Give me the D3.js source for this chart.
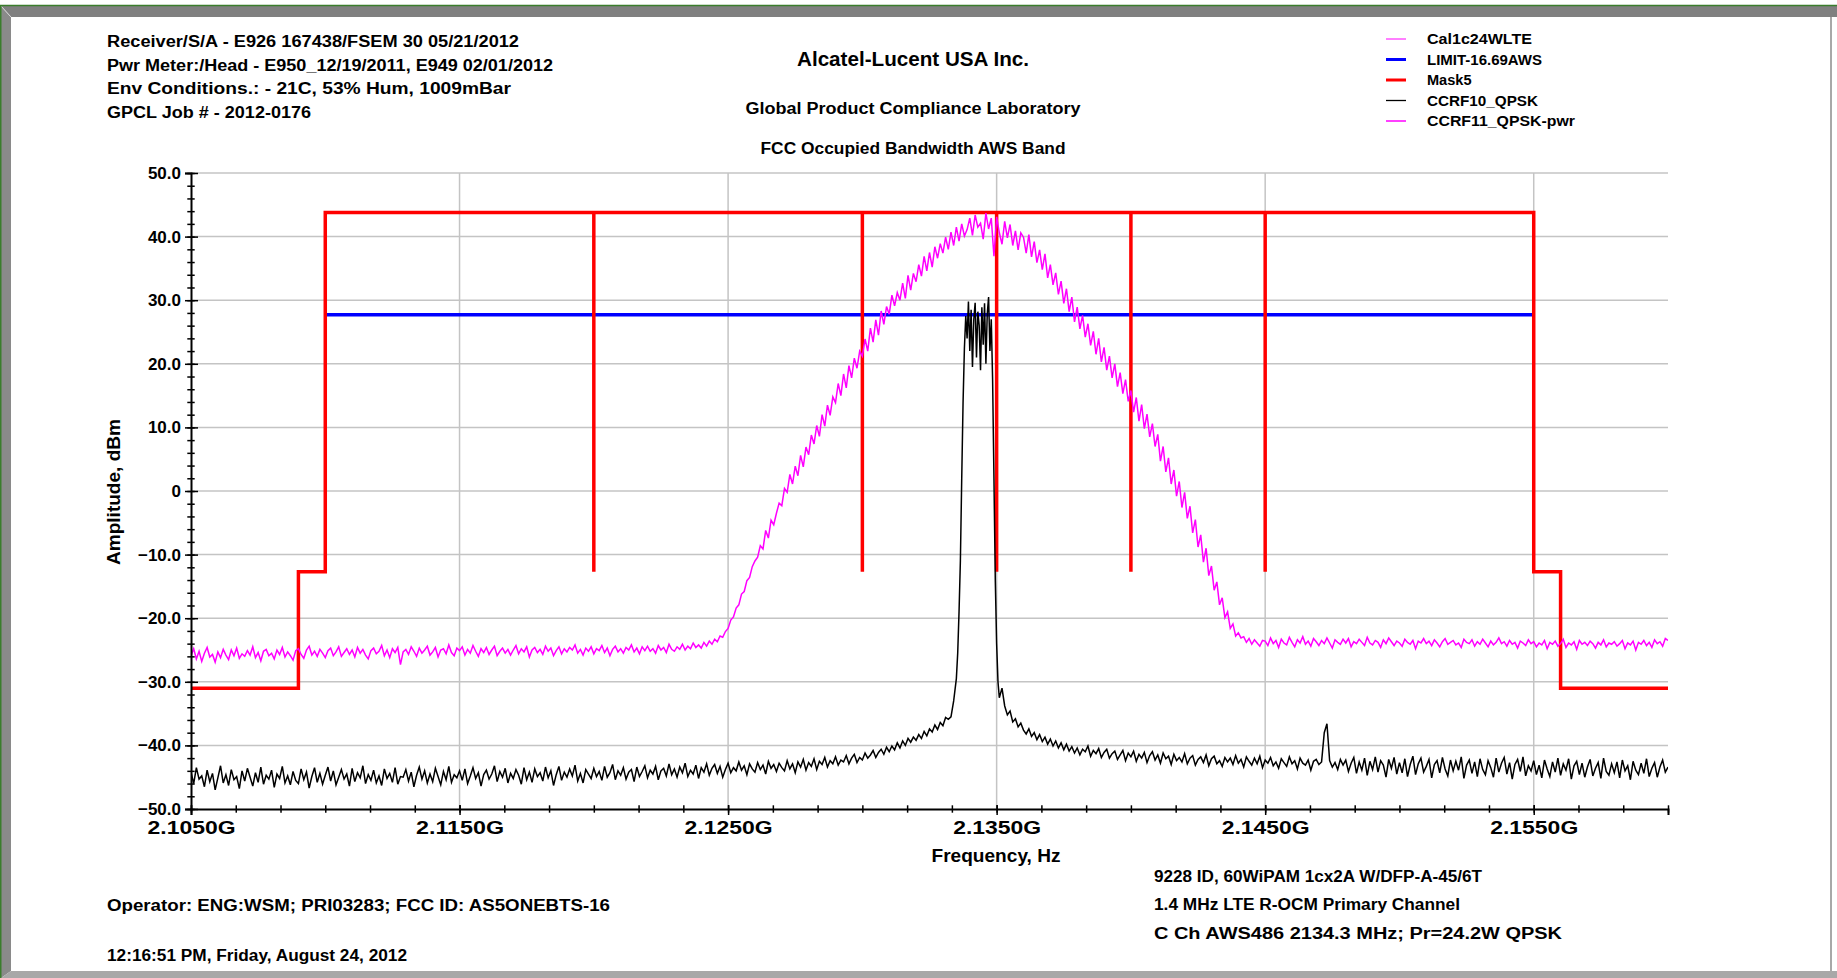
<!DOCTYPE html>
<html>
<head>
<meta charset="utf-8">
<script src="https://cdn.jsdelivr.net/npm/d3@7"></script>
<style>
  body { margin: 0; background: #fff; }
  svg text { font-family: "Liberation Sans", Arial, sans-serif; font-weight: bold; fill: #000; }
</style>
</head>
<body>
<div id="wrapper"></div>
<script>
// sweep grid of the analyser, MHz
const sweepStartMHz = 2105
const sweepStepMHz = 0.1

// CCRF11_QPSK-pwr (magenta), one value per sweep point (2105.0 .. 2160.0), dBm
const ccrf11Pwr = [
  -25.9,-24.8,-26.4,-25.2,-26.8,-25.5,-24.6,-26.1,-25.7,-26.9,
  -25.3,-26.2,-24.9,-25.8,-26.5,-25.0,-25.9,-24.7,-26.3,-25.6,
  -26.0,-25.1,-25.8,-24.5,-26.2,-25.4,-26.7,-25.2,-24.9,-25.9,
  -25.5,-26.4,-25.0,-25.7,-24.6,-26.1,-25.3,-25.9,-26.6,-25.1,
  -24.8,-25.7,-26.3,-25.0,-24.4,-25.8,-25.2,-26.0,-24.9,-25.5,
  -26.2,-25.1,-24.7,-25.9,-25.3,-24.5,-26.0,-25.4,-24.8,-25.7,
  -25.0,-26.1,-24.6,-25.5,-24.9,-25.8,-26.4,-25.1,-24.7,-25.6,
  -25.2,-24.3,-25.9,-25.0,-26.2,-24.8,-25.4,-24.6,-27.3,-25.3,
  -24.9,-25.7,-24.5,-25.2,-26.0,-24.7,-25.5,-25.0,-24.4,-25.8,
  -25.3,-24.6,-26.1,-25.0,-24.8,-25.6,-24.2,-25.4,-25.9,-24.7,
  -25.1,-24.5,-25.8,-24.9,-25.5,-24.3,-25.2,-26.0,-24.8,-25.4,
  -24.6,-25.7,-25.0,-24.4,-25.9,-25.2,-24.7,-25.5,-24.9,-25.8,
  -25.0,-24.3,-25.6,-24.8,-25.3,-24.5,-26.1,-25.0,-24.6,-25.4,
  -24.9,-25.7,-24.4,-25.2,-24.7,-25.9,-25.1,-24.5,-25.6,-24.8,
  -25.3,-24.6,-25.0,-24.2,-25.5,-24.9,-25.8,-24.7,-25.2,-24.5,
  -25.6,-24.8,-25.1,-24.3,-25.4,-24.7,-25.9,-24.9,-24.4,-25.3,
  -24.8,-25.5,-24.6,-25.0,-24.2,-25.3,-24.7,-25.6,-24.5,-25.1,
  -24.4,-25.2,-24.8,-25.5,-24.3,-25.0,-24.6,-25.4,-24.1,-24.9,
  -25.2,-24.5,-24.9,-24.1,-25.0,-24.4,-24.8,-23.9,-24.6,-24.2,
  -24.7,-23.8,-24.4,-23.6,-24.1,-23.3,-23.7,-22.8,-23.0,-22.1,
  -21.6,-20.3,-19.8,-18.4,-17.9,-16.2,-15.8,-14.1,-13.6,-11.9,
  -11.0,-10.4,-8.6,-9.1,-6.2,-7.4,-4.6,-5.3,-3.5,-1.9,
  -2.3,0.4,-0.2,2.6,1.1,3.9,2.4,5.6,3.8,6.9,
  5.7,8.8,7.4,10.3,8.6,12.0,10.2,13.5,11.9,14.8,
  13.9,16.9,15.0,18.4,16.2,19.7,17.8,20.9,19.3,22.0,
  21.2,23.9,22.0,25.6,23.4,26.9,24.5,28.3,26.2,29.0,
  27.8,30.8,29.1,31.2,30.0,32.7,30.3,33.9,31.6,34.2,
  32.9,35.6,33.8,36.9,34.6,37.5,35.2,38.4,36.6,38.9,
  37.4,39.9,38.0,40.7,38.6,41.5,39.3,42.0,40.1,41.1,
  42.9,40.2,43.4,41.5,42.1,39.6,43.7,41.2,42.9,36.9,
  43.1,40.6,38.8,42.4,39.8,41.9,38.6,40.9,37.9,40.6,
  39.9,37.4,40.3,36.8,39.2,35.9,37.9,34.8,37.3,33.5,
  35.6,32.4,34.3,30.9,33.0,29.5,31.8,28.2,30.5,26.6,
  28.9,25.5,27.6,24.2,26.3,22.9,25.1,21.5,24.0,20.3,
  22.6,19.0,21.2,17.8,20.0,16.4,18.6,15.3,17.5,14.1,
  15.8,12.4,14.7,11.0,13.6,9.8,12.1,8.5,10.6,7.0,
  8.9,4.7,7.0,3.0,5.2,1.1,3.3,-0.8,1.5,-2.6,
  -0.2,-4.3,-2.4,-6.6,-4.5,-8.8,-6.9,-11.2,-9.0,-13.3,
  -11.8,-15.6,-14.3,-17.9,-16.8,-19.9,-19.0,-21.6,-20.9,-22.8,
  -22.3,-23.1,-22.9,-23.8,-23.2,-24.1,-23.4,-23.9,-24.4,-23.5,
  -23.6,-24.3,-23.1,-24.0,-23.5,-24.6,-23.3,-23.9,-24.2,-23.0,
  -23.8,-24.5,-23.4,-23.9,-22.9,-24.1,-23.6,-24.4,-23.2,-23.7,
  -24.3,-23.5,-24.0,-23.1,-23.9,-24.7,-23.4,-23.8,-24.1,-23.3,
  -23.9,-23.2,-24.5,-23.7,-24.0,-23.3,-23.8,-24.3,-23.0,-23.9,
  -24.2,-23.5,-23.8,-24.6,-23.4,-24.0,-23.1,-23.7,-24.3,-23.6,
  -23.9,-24.4,-23.3,-23.8,-24.1,-23.5,-24.8,-23.6,-23.9,-23.2,
  -24.0,-23.6,-24.3,-23.4,-23.9,-24.5,-23.7,-23.2,-24.1,-23.8,
  -23.5,-24.2,-23.9,-24.6,-23.3,-23.8,-24.0,-23.4,-24.4,-23.7,
  -24.1,-23.3,-23.9,-24.5,-23.6,-24.2,-23.8,-23.1,-24.0,-23.7,
  -24.4,-23.5,-24.1,-23.8,-24.7,-23.6,-23.9,-24.3,-23.4,-24.0,
  -23.7,-24.5,-23.9,-24.2,-23.5,-24.8,-23.8,-24.1,-23.6,-24.4,
  -24.0,-23.3,-24.6,-23.9,-24.2,-23.7,-24.9,-23.5,-24.1,-23.8,
  -24.3,-23.6,-24.0,-24.7,-23.8,-24.2,-23.4,-24.5,-23.9,-24.1,
  -23.7,-24.4,-24.0,-23.5,-24.8,-23.9,-24.2,-23.6,-25.0,-23.8,
  -24.1,-23.5,-24.3,-23.8,-24.6,-23.4,-24.0,-23.7,-24.4,-23.2,
  -23.5
]

// CCRF10_QPSK (black): left skirt 2105.0 .. 2133.2, core pairs, right skirt 2135.2 .. 2160.0
const ccrf10LeftStart = 2105
const ccrf10Left = [
  -44.2,-46.0,-43.5,-45.3,-44.8,-46.5,-43.9,-45.7,-44.4,-47.0,
  -45.1,-43.2,-45.9,-44.6,-46.3,-43.8,-45.4,-44.9,-46.8,-44.0,
  -45.6,-43.6,-45.0,-46.4,-44.3,-45.8,-43.4,-46.1,-44.7,-45.3,
  -43.9,-46.6,-44.5,-45.2,-43.3,-45.9,-44.8,-46.2,-44.1,-45.5,
  -46.0,-43.7,-45.4,-44.2,-46.7,-44.9,-43.5,-45.8,-44.4,-46.1,
  -44.7,-43.4,-45.6,-44.0,-46.2,-45.0,-43.8,-45.3,-44.5,-46.4,
  -43.6,-45.7,-44.3,-45.1,-43.2,-46.0,-44.6,-45.5,-43.9,-45.9,
  -44.8,-46.3,-43.7,-45.2,-44.4,-45.8,-43.5,-46.1,-44.9,-45.0,
  -43.8,-45.6,-44.2,-46.5,-44.7,-43.4,-45.3,-44.0,-45.9,-44.5,
  -45.7,-43.6,-44.9,-46.2,-44.1,-45.4,-43.3,-45.8,-44.6,-45.1,
  -44.0,-45.5,-43.7,-46.0,-44.8,-43.5,-45.2,-44.3,-46.4,-44.6,
  -43.9,-45.3,-44.5,-43.2,-45.7,-44.1,-45.0,-43.6,-45.9,-44.4,
  -45.2,-43.8,-44.7,-46.1,-43.5,-45.4,-44.2,-45.8,-43.7,-44.9,
  -44.3,-45.6,-43.4,-45.1,-44.0,-46.3,-44.6,-43.3,-45.5,-44.2,
  -45.0,-43.7,-44.8,-43.1,-45.6,-44.4,-45.9,-43.8,-44.5,-45.2,
  -43.6,-44.9,-44.1,-45.5,-43.3,-45.0,-44.3,-43.0,-45.4,-44.0,
  -44.7,-43.5,-45.3,-44.2,-43.8,-45.7,-43.4,-44.9,-44.1,-43.2,
  -45.1,-43.9,-44.5,-43.3,-45.4,-44.0,-43.6,-44.8,-42.9,-44.6,
  -43.7,-45.0,-43.4,-44.3,-42.8,-44.9,-43.9,-44.5,-43.1,-45.2,
  -43.5,-44.2,-42.9,-44.7,-43.6,-43.0,-44.4,-43.3,-45.0,-43.8,
  -42.8,-44.3,-43.5,-44.0,-42.6,-43.9,-43.2,-44.6,-42.9,-43.7,
  -44.2,-42.7,-43.8,-43.1,-44.5,-42.5,-43.6,-43.0,-44.1,-42.8,
  -43.5,-44.0,-42.4,-43.7,-42.9,-44.3,-42.6,-43.4,-42.2,-43.9,
  -42.7,-43.3,-42.1,-43.8,-42.5,-43.0,-41.9,-43.4,-42.4,-42.9,
  -41.8,-43.1,-42.3,-42.6,-41.6,-42.9,-42.0,-41.4,-42.7,-41.9,
  -42.3,-41.2,-42.0,-41.5,-40.8,-41.9,-41.1,-40.6,-41.4,-40.3,
  -41.0,-40.1,-40.7,-39.6,-40.4,-39.3,-40.0,-38.9,-39.5,-38.7,
  -39.2,-38.3,-38.9,-37.8,-38.5,-37.4,-37.9,-36.8,-37.5,-36.4,
  -36.9,-35.6,-35.9
]
const ccrf10Core = [
  [2133.3,-35.5],[2133.4,-33.0],[2133.5,-29.5],[2133.55,-25.5],[2133.6,-19.0],[2133.65,-11.0],[2133.7,2.0],[2133.75,14.0],
  [2133.8,22.5],[2133.85,27.5],[2133.9,24.0],[2133.95,29.8],[2134.0,22.0],[2134.05,28.5],[2134.1,19.5],[2134.15,27.0],
  [2134.2,29.6],[2134.25,21.0],[2134.3,28.2],[2134.35,26.0],[2134.4,19.0],[2134.45,28.9],[2134.5,23.0],[2134.55,29.5],
  [2134.6,20.0],[2134.65,27.8],[2134.7,30.5],[2134.75,22.0],[2134.8,27.0],[2134.85,17.5],[2134.9,2.0],[2134.95,-14.0],
  [2135.0,-24.0],[2135.05,-30.0],[2135.1,-32.5]
]
const ccrf10RightStart = 2135.2
const ccrf10Right = [
  -31.0,-33.8,-35.2,-34.6,-36.3,-35.8,-37.1,-36.5,
  -37.6,-38.2,-37.4,-38.6,-38.0,-39.1,-38.3,-39.4,-38.7,-39.8,
  -39.0,-40.1,-39.3,-40.4,-39.6,-40.7,-39.8,-40.9,-40.2,-41.2,
  -40.4,-41.5,-40.6,-41.0,-40.1,-41.7,-40.8,-41.3,-40.5,-41.9,
  -41.1,-40.6,-42.0,-41.3,-40.9,-42.2,-41.5,-40.8,-42.4,-41.2,
  -41.8,-40.9,-42.5,-41.4,-42.0,-41.1,-42.7,-41.6,-41.0,-42.3,
  -41.5,-42.8,-41.2,-42.1,-41.7,-43.0,-41.4,-42.4,-41.9,-42.6,
  -41.3,-42.9,-42.0,-41.6,-43.1,-42.2,-41.8,-42.7,-41.5,-43.2,
  -42.1,-41.7,-42.9,-42.4,-43.3,-41.9,-42.6,-42.0,-43.0,-41.6,
  -42.8,-42.2,-43.4,-41.8,-42.5,-43.1,-42.0,-42.9,-41.7,-43.5,
  -42.3,-42.8,-41.9,-43.2,-42.6,-43.6,-42.1,-42.7,-43.3,-41.8,
  -42.9,-42.4,-43.7,-42.0,-42.8,-43.1,-42.3,-43.9,-42.5,-42.2,
  -43.0,-42.6,-38.0,-36.6,-42.4,-43.4,-42.7,-43.8,-42.2,-43.1,
  -42.3,-44.1,-42.8,-41.9,-44.4,-42.6,-43.9,-42.0,-44.7,-42.5,
  -43.8,-41.8,-44.2,-42.4,-43.1,-45.0,-42.2,-43.6,-41.9,-44.5,
  -42.7,-44.3,-42.1,-44.9,-43.0,-41.7,-44.6,-42.9,-42.0,-44.2,
  -43.3,-42.2,-45.1,-43.0,-42.4,-44.3,-41.9,-43.7,-44.8,-42.3,
  -44.0,-42.5,-43.9,-41.8,-45.2,-43.1,-42.3,-44.4,-42.6,-44.9,
  -42.1,-43.8,-44.6,-42.4,-43.5,-45.0,-42.0,-44.2,-42.8,-41.9,
  -44.5,-42.7,-45.3,-43.0,-42.2,-44.1,-41.8,-44.8,-43.2,-44.0,
  -42.4,-44.6,-43.1,-45.1,-42.3,-43.7,-44.9,-42.6,-44.2,-42.0,
  -44.7,-42.9,-43.9,-42.1,-45.3,-43.2,-42.5,-44.6,-42.8,-45.0,
  -43.4,-42.2,-44.8,-43.6,-42.7,-45.2,-42.0,-44.1,-44.7,-42.9,
  -44.3,-42.6,-45.1,-42.3,-44.0,-43.2,-45.4,-42.5,-43.9,-44.6,
  -42.8,-44.4,-42.1,-44.9,-43.6,-42.7,-45.0,-43.4,-42.3,-44.2,
  -43.4
]

// Mask5 (red step mask)
const mask5Freq  = [2105, 2109, 2109, 2110, 2110, 2120, 2120, 2120, 2130, 2130, 2130, 2135, 2135, 2135, 2140, 2140, 2140, 2145, 2145, 2145, 2155, 2155, 2156, 2156, 2160]
const mask5Level = [-31, -31, -12.7, -12.7, 43.8, 43.8, -12.7, 43.8, 43.8, -12.7, 43.8, 43.8, -12.7, 43.8, 43.8, -12.7, 43.8, 43.8, -12.7, 43.8, 43.8, -12.7, -12.7, -31, -31]

// LIMIT-16.69AWS (blue)
const limitFreq  = [2110, 2155]
const limitLevel = [27.7, 27.7]

// axis ticks
const xMajorTicks = [2105, 2115, 2125, 2135, 2145, 2155]
const yMajorTicks = [-50, -40, -30, -20, -10, 0, 10, 20, 30, 40, 50]

// legend
const legendNames = ["Cal1c24WLTE", "LIMIT-16.69AWS", "Mask5", "CCRF10_QPSK", "CCRF11_QPSK-pwr"]

// texts
const headerLines = [
  "Receiver/S/A - E926 167438/FSEM 30 05/21/2012",
  "Pwr Meter:/Head - E950_12/19/2011, E949 02/01/2012",
  "Env Conditions.: - 21C, 53% Hum, 1009mBar",
  "GPCL Job # - 2012-0176",
]
const titleLines = ["Alcatel-Lucent USA Inc.", "Global Product Compliance Laboratory", "FCC Occupied Bandwidth AWS Band"]
const footerLeft = ["Operator:  ENG:WSM; PRI03283;  FCC ID: AS5ONEBTS-16", "12:16:51 PM, Friday, August 24, 2012"]
const footerRight = ["9228 ID, 60WiPAM 1cx2A W/DFP-A-45/6T", "1.4 MHz LTE R-OCM Primary Channel", "C Ch AWS486 2134.3 MHz; Pr=24.2W QPSK"]

function drawChart() {
  let dimensions = {
    width: 1837,
    height: 978,
    margin: { top: 173, right: 169, bottom: 169, left: 191 },
  }
  dimensions.boundedWidth = dimensions.width - dimensions.margin.left - dimensions.margin.right
  dimensions.boundedHeight = dimensions.height - dimensions.margin.top - dimensions.margin.bottom

  const wrapper = d3.select("#wrapper")
    .append("svg")
    .attr("width", dimensions.width)
    .attr("height", dimensions.height)

  // frame
  wrapper.append("rect").attr("x", 0).attr("y", 0).attr("width", 1837).attr("height", 978).attr("fill", "#fff")
  wrapper.append("polygon").attr("points", "1,6 1837,6 1837,17 11,17").attr("fill", "#808080")
  wrapper.append("polygon").attr("points", "1,6 11,17 11,971 1,978").attr("fill", "#8a8a8a")
  wrapper.append("line").attr("x1", 1).attr("y1", 6).attr("x2", 11).attr("y2", 17).attr("stroke", "#d8d8d8").attr("stroke-width", 1)
  wrapper.append("polygon").attr("points", "1,978 11,971 1837,971 1837,978").attr("fill", "#a8a8a8")
  wrapper.append("line").attr("x1", 1831).attr("y1", 17).attr("x2", 1831).attr("y2", 971).attr("stroke", "#a8a8a8").attr("stroke-width", 2)
  wrapper.append("line").attr("x1", 0).attr("y1", 5.5).attr("x2", 1837).attr("y2", 5.5).attr("stroke", "#3a7d2c").attr("stroke-width", 1.5)
  wrapper.append("line").attr("x1", 0.75).attr("y1", 5).attr("x2", 0.75).attr("y2", 978).attr("stroke", "#3a7d2c").attr("stroke-width", 1.5)

  const bounds = wrapper.append("g")
    .style("transform", `translate(${dimensions.margin.left}px, ${dimensions.margin.top}px)`)

  // scales
  const xScale = d3.scaleLinear()
    .domain([2105, 2160])
    .range([0, dimensions.boundedWidth])
  const yScale = d3.scaleLinear()
    .domain([-50, 50])
    .range([dimensions.boundedHeight, 0])

  const xMinorTicks = d3.range(0, 34).map(i => 2105 + i * 10 / 6)
  const yMinorTicks = d3.range(-50, 51, 2)

  // grid
  bounds.append("g").selectAll("line")
    .data(yMajorTicks.filter(d => d > -50))
    .join("line")
    .attr("x1", 0).attr("x2", dimensions.boundedWidth)
    .attr("y1", d => yScale(d)).attr("y2", d => yScale(d))
    .attr("stroke", "#c4c4c4").attr("stroke-width", 1.5)
  bounds.append("g").selectAll("line")
    .data(xMajorTicks.filter(d => d > 2105))
    .join("line")
    .attr("x1", d => xScale(d)).attr("x2", d => xScale(d))
    .attr("y1", 0).attr("y2", dimensions.boundedHeight)
    .attr("stroke", "#c4c4c4").attr("stroke-width", 1.5)

  bounds.append("clipPath").attr("id", "plotClip")
    .append("rect").attr("x", 0).attr("y", -2)
    .attr("width", dimensions.boundedWidth).attr("height", dimensions.boundedHeight + 2)

  const lineGenerator = d3.line()
    .x(d => xScale(d[0]))
    .y(d => yScale(d[1]))

  const traces = bounds.append("g").attr("clip-path", "url(#plotClip)")

  const limitPts = limitFreq.map((f, i) => [f, limitLevel[i]])
  traces.append("path")
    .attr("d", lineGenerator(limitPts))
    .attr("fill", "none").attr("stroke", "#0000ff").attr("stroke-width", 3.5)

  const maskPts = mask5Freq.map((f, i) => [f, mask5Level[i]])
  traces.append("path")
    .attr("d", lineGenerator(maskPts))
    .attr("fill", "none").attr("stroke", "#ff0000").attr("stroke-width", 3.5)
    .attr("stroke-linejoin", "miter")

  const blackPts = [
    ...ccrf10Left.map((v, i) => [ccrf10LeftStart + i * sweepStepMHz, v]),
    ...ccrf10Core,
    ...ccrf10Right.map((v, i) => [ccrf10RightStart + i * sweepStepMHz, v]),
  ]
  traces.append("path")
    .attr("d", lineGenerator(blackPts))
    .attr("fill", "none").attr("stroke", "#000").attr("stroke-width", 1.5)

  const magentaPts = ccrf11Pwr.map((v, i) => [sweepStartMHz + i * sweepStepMHz, v])
  traces.append("path")
    .attr("d", lineGenerator(magentaPts))
    .attr("fill", "none").attr("stroke", "#ff00ff").attr("stroke-width", 1.5)

  // axes
  const yAxis = bounds.append("g")
    .call(d3.axisLeft(yScale).tickValues(yMajorTicks).tickSize(6).tickPadding(4)
      .tickFormat(d => d === 0 ? "0" : d3.format(".1f")(d)))
  yAxis.selectAll(".tick line").attr("x1", 7).attr("stroke-width", 1.5)
  yAxis.select(".domain").attr("stroke-width", 2)
  yAxis.selectAll(".tick text").style("font-size", "17px")

  const yMinor = bounds.append("g")
    .call(d3.axisLeft(yScale).tickValues(yMinorTicks).tickSize(3.7).tickFormat(""))
  yMinor.select(".domain").remove()
  yMinor.selectAll(".tick line").attr("x1", 3.7).attr("stroke-width", 1.5)

  const xAxis = bounds.append("g")
    .call(d3.axisBottom(xScale).tickValues(xMajorTicks).tickSize(6).tickPadding(6)
      .tickFormat(d => d3.format(".4f")(d / 1000) + "G"))
    .style("transform", `translateY(${dimensions.boundedHeight}px)`)
  xAxis.selectAll(".tick line").attr("y1", -4).attr("stroke-width", 1.5)
  xAxis.select(".domain").attr("stroke-width", 2)
  xAxis.selectAll(".tick text").style("font-size", "18px")
    .attr("textLength", 88).attr("lengthAdjust", "spacingAndGlyphs")

  const xMinor = bounds.append("g")
    .call(d3.axisBottom(xScale).tickValues(xMinorTicks).tickSize(3.7).tickFormat(""))
    .style("transform", `translateY(${dimensions.boundedHeight}px)`)
  xMinor.select(".domain").remove()
  xMinor.selectAll(".tick line").attr("y1", -3.7).attr("stroke-width", 1.5)

  const fit = (sel, w) => sel.attr("textLength", w).attr("lengthAdjust", "spacingAndGlyphs")

  // axis labels
  wrapper.append("text")
    .attr("transform", "translate(120, 492) rotate(-90)")
    .attr("text-anchor", "middle")
    .style("font-size", "18px")
    .text("Amplitude, dBm")
    .call(fit, 146)
  wrapper.append("text")
    .attr("x", 996).attr("y", 862)
    .attr("text-anchor", "middle")
    .style("font-size", "18px")
    .text("Frequency, Hz")
    .call(fit, 129)

  // header
  const headerWidths = [412, 446, 404, 204]
  headerLines.forEach((t, i) => {
    wrapper.append("text").attr("x", 107).attr("y", 47 + i * 23.6)
      .style("font-size", "16px").text(t)
      .call(fit, headerWidths[i])
  })
  const titleY = [66, 114, 154]
  const titleWidths = [232, 335, 305]
  const titleSizes = [20, 16, 16]
  titleLines.forEach((t, i) => {
    wrapper.append("text").attr("x", 913).attr("y", titleY[i])
      .attr("text-anchor", "middle")
      .style("font-size", titleSizes[i] + "px").text(t)
      .call(fit, titleWidths[i])
  })

  // legend
  const legendStyles = [
    { color: "#ff00ff", w: 1, tw: 105 },
    { color: "#0000ff", w: 3, tw: 115 },
    { color: "#ff0000", w: 3, tw: 44.5 },
    { color: "#000", w: 1.3, tw: 111 },
    { color: "#ff00ff", w: 1.5, tw: 148 },
  ]
  const legend = wrapper.append("g")
  legendNames.forEach((name, i) => {
    const y = 39 + i * 20.5
    legend.append("line")
      .attr("x1", 1386).attr("x2", 1406).attr("y1", y).attr("y2", y)
      .attr("stroke", legendStyles[i].color).attr("stroke-width", legendStyles[i].w)
    legend.append("text").attr("x", 1427).attr("y", y + 5)
      .style("font-size", "14.5px").text(name)
      .call(fit, legendStyles[i].tw)
  })

  // footer
  const footerLeftY = [911, 961]
  const footerLeftW = [503, 300]
  footerLeft.forEach((t, i) => {
    wrapper.append("text").attr("x", 107).attr("y", footerLeftY[i])
      .style("font-size", "16px").text(t)
      .call(fit, footerLeftW[i])
  })
  const footerRightW = [328, 306, 408]
  footerRight.forEach((t, i) => {
    wrapper.append("text").attr("x", 1154).attr("y", 882 + i * 28.3)
      .style("font-size", "16px").text(t)
      .call(fit, footerRightW[i])
  })
}

drawChart()
</script>
</body>
</html>
